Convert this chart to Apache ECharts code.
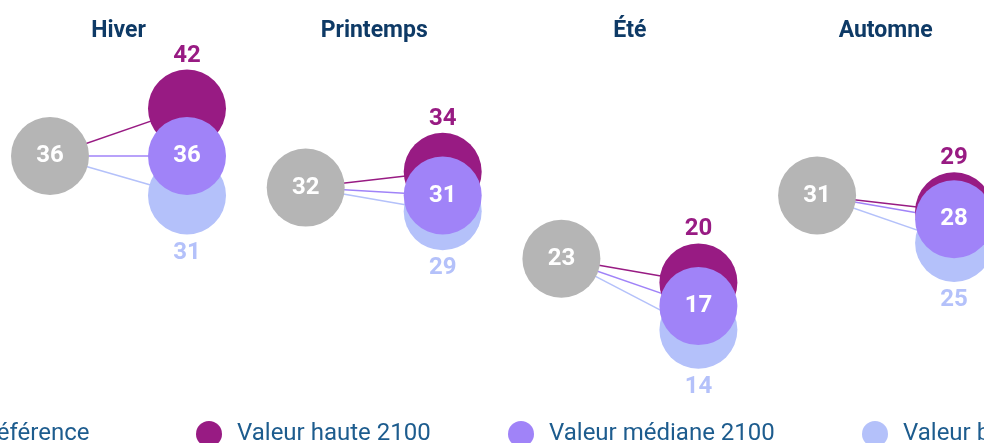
<!DOCTYPE html>
<html>
<head>
    <meta charset="UTF-8">
    <title>saisons 2100</title>
    <script src="https://cdn.jsdelivr.net/npm/echarts@6/dist/echarts.min.js"></script>
    <style>
        body, html {
            margin: 0;
            padding: 0;
            height: 100%;
            width: 100%;
            background: #fff;
        }
        #main {
            width: 984px;
            height: 443px;
        }
    </style>
</head>
<body>
<div id="main"></div>
<script>
    var saisons = ['Hiver', 'Printemps', 'Été', 'Automne'];
    var reference = [36, 32, 23, 31];
    var haute = [42, 34, 20, 29];
    var mediane = [36, 31, 17, 28];
    var basse = [31, 29, 14, 25];
    var colonnes = ['Référence', '2100'];

    var noms = ['Référence', 'Valeur haute 2100', 'Valeur médiane 2100', 'Valeur basse 2100'];
    var couleurs = {
        ref: '#b5b5b5',
        haute: '#981b83',
        mediane: '#a083f8',
        basse: '#b4c1fa'
    };

    var chart = echarts.init(document.getElementById('main'), null, {renderer: 'canvas'});

    var grids = [], xAxes = [], yAxes = [], titres = [], series = [];
    var pas = 255.7, gauche = 50, largeur = 137;

    saisons.forEach(function (s, i) {
        var l = gauche + pas * i;
        grids.push({left: l, width: largeur, top: 45.4, height: 316});
        xAxes.push({type: 'category', gridIndex: i, data: colonnes, boundaryGap: false, show: false});
        yAxes.push({type: 'value', gridIndex: i, min: 10, max: 50, show: false});
        titres.push({
            type: 'text', x: l + largeur / 2, y: 31,
            style: {
                text: s, textAlign: 'center', textVerticalAlign: 'middle',
                font: 'bold 23px Roboto', fill: '#0e3a66'
            }
        });

        // lignes de pente
        [[haute, couleurs.haute, noms[1]], [mediane, couleurs.mediane, noms[2]], [basse, couleurs.basse, noms[3]]].forEach(function (p) {
            series.push({
                type: 'line', name: p[2], xAxisIndex: i, yAxisIndex: i,
                data: [reference[i], p[0][i]], showSymbol: false, symbol: 'none',
                lineStyle: {color: p[1], width: 1.5}, itemStyle: {color: p[1]},
                silent: true, z: 2
            });
        });

        var lab = {fontFamily: 'Roboto', fontSize: 24, fontWeight: 'bold'};
        var fmt = function (p) { return p.value[1]; };
        series.push({
            type: 'scatter', name: noms[3], xAxisIndex: i, yAxisIndex: i,
            data: [['2100', basse[i]]], symbolSize: 78,
            itemStyle: {color: couleurs.basse, opacity: 1},
            label: Object.assign({show: true, position: 'bottom', distance: 6, color: couleurs.basse, formatter: fmt}, lab),
            z: 3
        });
        series.push({
            type: 'scatter', name: noms[1], xAxisIndex: i, yAxisIndex: i,
            data: [['2100', haute[i]]], symbolSize: 78,
            itemStyle: {color: couleurs.haute, opacity: 1},
            label: Object.assign({show: true, position: 'top', distance: 2, color: couleurs.haute, formatter: fmt}, lab),
            z: 4
        });
        series.push({
            type: 'scatter', name: noms[2], xAxisIndex: i, yAxisIndex: i,
            data: [['2100', mediane[i]]], symbolSize: 78,
            itemStyle: {color: couleurs.mediane, opacity: 1},
            label: Object.assign({show: true, position: 'inside', color: '#fff', formatter: fmt}, lab),
            z: 5
        });
        series.push({
            type: 'scatter', name: noms[0], xAxisIndex: i, yAxisIndex: i,
            data: [['Référence', reference[i]]], symbolSize: 78,
            itemStyle: {color: couleurs.ref, opacity: 1},
            label: Object.assign({show: true, position: 'inside', color: '#fff', formatter: fmt}, lab),
            z: 6
        });
    });

    var legendeX = [-64, 191, 503, 857];
    var legends = noms.map(function (n, k) {
        return {
            data: [{name: n, icon: 'circle'}], left: legendeX[k], top: 416,
            itemWidth: 46, itemHeight: 26, itemGap: 5,
            selectedMode: false,
            textStyle: {fontFamily: 'Roboto', fontSize: 24, color: '#1d5c8e'}
        };
    });

    chart.setOption({
        animation: false,
        graphic: titres,
        legend: legends,
        grid: grids,
        xAxis: xAxes,
        yAxis: yAxes,
        series: series
    });
</script>
</body>
</html>
